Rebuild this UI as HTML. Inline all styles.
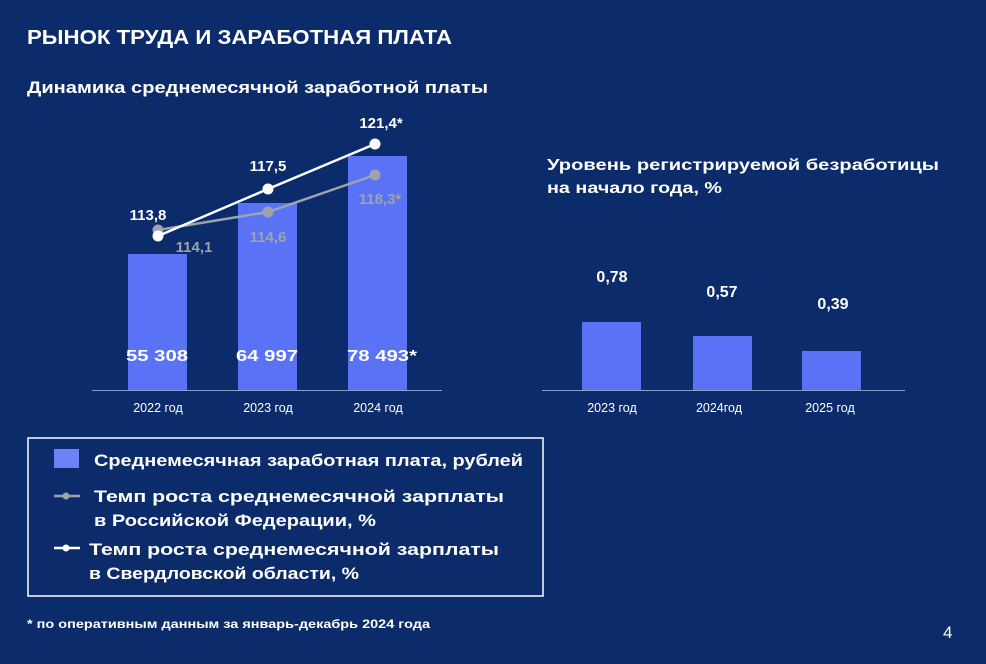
<!DOCTYPE html>
<html><head><meta charset="utf-8"><style>
html,body{margin:0;padding:0;background:#0c2b6b;}
svg{display:block;}
text{font-family:"Liberation Sans","DejaVu Sans",sans-serif;}
</style></head><body>
<svg width="986" height="664" viewBox="0 0 986 664" xmlns="http://www.w3.org/2000/svg" fill="#fff">
<rect width="986" height="664" fill="#0c2b6b"/>
<text x="27" y="44" font-size="20" font-weight="bold" textLength="425" lengthAdjust="spacingAndGlyphs">РЫНОК ТРУДА И ЗАРАБОТНАЯ ПЛАТА</text>
<text x="27" y="93" font-size="16.5" font-weight="bold" textLength="461" lengthAdjust="spacingAndGlyphs">Динамика среднемесячной заработной платы</text>
<g fill="#5a73f6">
<rect x="128" y="254" width="59" height="136"/>
<rect x="238" y="203" width="59" height="187"/>
<rect x="348" y="156" width="59" height="234"/>
</g>
<line x1="92" y1="390.5" x2="442" y2="390.5" stroke="#8a9cc8" stroke-width="1"/>
<g font-size="12.5" text-anchor="middle">
<text x="158" y="412">2022 год</text><text x="268" y="412">2023 год</text><text x="378" y="412">2024 год</text>
</g>
<g font-size="16" font-weight="bold" text-anchor="middle">
<text x="157" y="361" textLength="62" lengthAdjust="spacingAndGlyphs">55 308</text><text x="267" y="361" textLength="62" lengthAdjust="spacingAndGlyphs">64 997</text><text x="382" y="361" textLength="70" lengthAdjust="spacingAndGlyphs">78 493*</text>
</g>
<polyline points="158,230 268,212 375,175" fill="none" stroke="#a0a3ad" stroke-width="2.5"/>
<g fill="#a0a3ad"><circle cx="158" cy="230" r="5.5"/><circle cx="268" cy="212" r="5.5"/><circle cx="375" cy="175" r="5.5"/></g>
<polyline points="158,236 268,189 375,144" fill="none" stroke="#fff" stroke-width="2.5"/>
<g fill="#fff"><circle cx="158" cy="236" r="5.5"/><circle cx="268" cy="189" r="5.5"/><circle cx="375" cy="144" r="5.5"/></g>
<g font-size="15" font-weight="bold" text-anchor="middle">
<text x="148" y="220">113,8</text><text x="268" y="171">117,5</text><text x="381" y="128">121,4*</text>
</g>
<g font-size="15" font-weight="bold" text-anchor="middle" fill="#9ea2ad">
<text x="194" y="252">114,1</text><text x="268" y="242">114,6</text><text x="380" y="204">118,3*</text>
</g>
<text x="547" y="170" font-size="16" font-weight="bold" textLength="392" lengthAdjust="spacingAndGlyphs">Уровень регистрируемой безработицы</text>
<text x="547" y="193" font-size="16" font-weight="bold" textLength="175" lengthAdjust="spacingAndGlyphs">на начало года, %</text>
<g fill="#5a73f6">
<rect x="582" y="322" width="59" height="68"/>
<rect x="693" y="336" width="59" height="54"/>
<rect x="802" y="351" width="59" height="39"/>
</g>
<line x1="542" y1="390.5" x2="905" y2="390.5" stroke="#8a9cc8" stroke-width="1"/>
<g font-size="12.5" text-anchor="middle">
<text x="612" y="412">2023 год</text><text x="719" y="412">2024год</text><text x="830" y="412">2025 год</text>
</g>
<g font-size="16" font-weight="bold" text-anchor="middle">
<text x="612" y="282">0,78</text><text x="722" y="297">0,57</text><text x="833" y="309">0,39</text>
</g>
<rect x="28" y="438" width="515" height="158" fill="none" stroke="#fff" stroke-width="1.5"/>
<rect x="54" y="449" width="25" height="19" fill="#6b83f7"/>
<text x="94" y="466" font-size="17" font-weight="bold" textLength="429" lengthAdjust="spacingAndGlyphs">Среднемесячная заработная плата, рублей</text>
<line x1="54" y1="496" x2="80" y2="496" stroke="#a0a3ad" stroke-width="2.5"/><circle cx="66" cy="496" r="3.5" fill="#a0a3ad"/>
<text x="94" y="502" font-size="17" font-weight="bold" textLength="410" lengthAdjust="spacingAndGlyphs">Темп роста среднемесячной зарплаты</text>
<text x="94" y="526" font-size="17" font-weight="bold" textLength="282" lengthAdjust="spacingAndGlyphs">в Российской Федерации, %</text>
<line x1="54" y1="548" x2="80" y2="548" stroke="#fff" stroke-width="2.5"/><circle cx="66" cy="548" r="3.5" fill="#fff"/>
<text x="89" y="555" font-size="17" font-weight="bold" textLength="410" lengthAdjust="spacingAndGlyphs">Темп роста среднемесячной зарплаты</text>
<text x="89" y="579" font-size="17" font-weight="bold" textLength="270" lengthAdjust="spacingAndGlyphs">в Свердловской области, %</text>
<text x="27" y="628" font-size="11.5" font-weight="bold" textLength="403" lengthAdjust="spacingAndGlyphs">* по оперативным данным за январь-декабрь 2024 года</text>
<text x="943" y="638" font-size="17">4</text>
</svg>
</body></html>
